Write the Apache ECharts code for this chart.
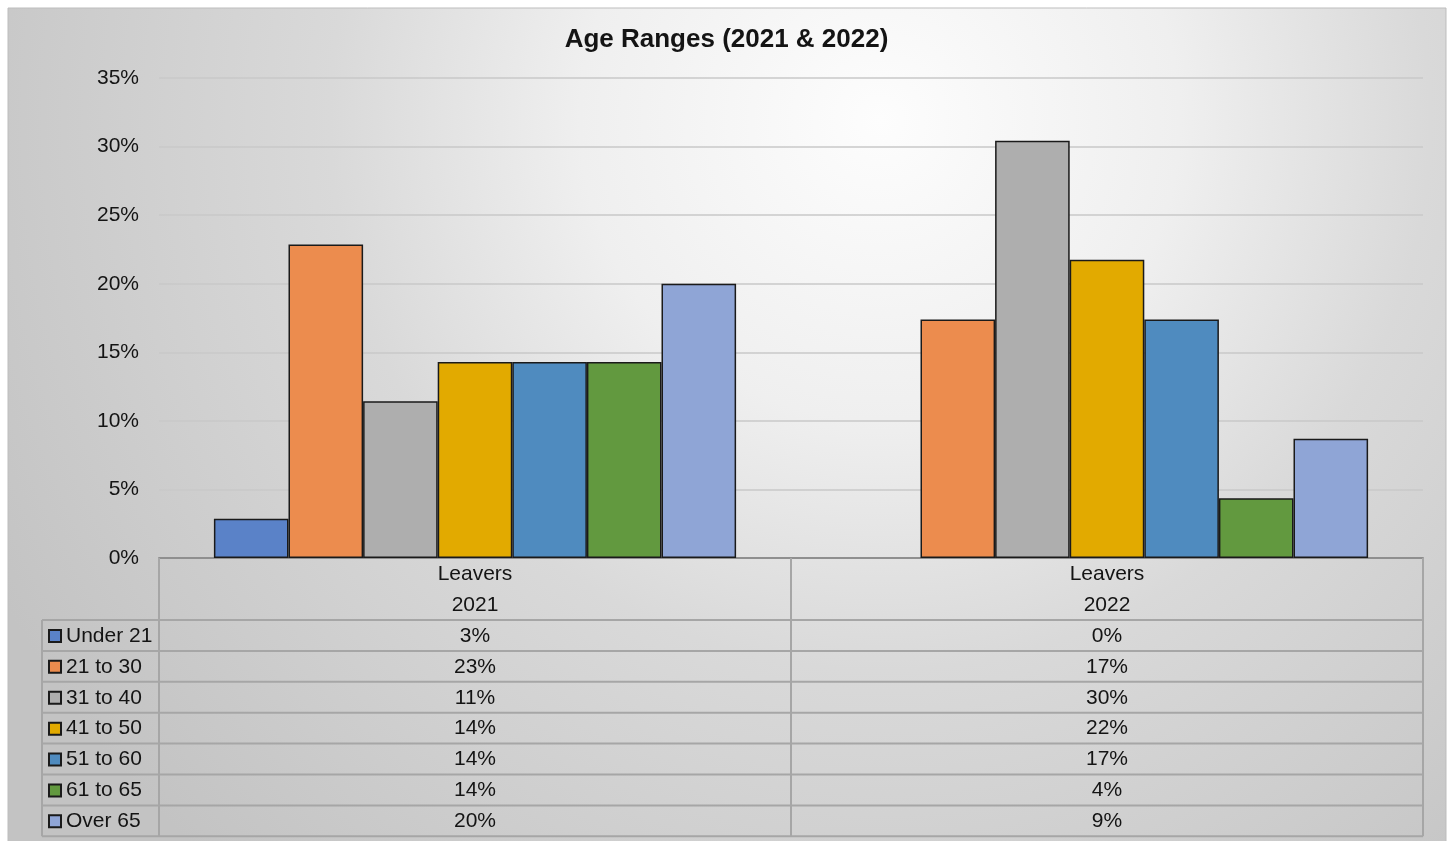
<!DOCTYPE html>
<html>
<head>
<meta charset="utf-8">
<script src="https://cdn.jsdelivr.net/npm/echarts@6/dist/echarts.min.js"></script>
<style>
html,body{margin:0;padding:0;background:#fff;}
#chart{width:1453px;height:841px;}
</style>
</head>
<body>
<div id="chart"></div>
<script>
// ---- data ----
const categories = ['2021', '2022'];
const groupLabel = 'Leavers';
const seriesNames = ['Under 21', '21 to 30', '31 to 40', '41 to 50', '51 to 60', '61 to 65', 'Over 65'];
const under21  = [2.86, 0];
const age21to30 = [22.86, 17.39];
const age31to40 = [11.43, 30.43];
const age41to50 = [14.29, 21.74];
const age51to60 = [14.29, 17.39];
const age61to65 = [14.29, 4.35];
const over65   = [20.0, 8.70];
const yTicks = [0, 5, 10, 15, 20, 25, 30, 35];

const seriesValues = [under21, age21to30, age31to40, age41to50, age51to60, age61to65, over65];
const colors = ['#5A82C8', '#EC8C4E', '#AEAEAE', '#E2AA00', '#4F8BBF', '#62993F', '#8FA5D6'];

const chart = echarts.init(document.getElementById('chart'));

const TXT = '#141414';
const FONT = 'Liberation Sans, Arial, sans-serif';
const gridLeft = 159, gridRight = 1423, gridTop = 78, gridBottomY = 558;
const rowH = 30.9;
const firstRowTop = 620;
const tableBottom = firstRowTop + rowH * 7;
const legendLeft = 42;
const midX = (gridLeft + gridRight) / 2;

const xAxes = [{
  type: 'category',
  data: categories,
  position: 'bottom',
  axisLine: { show: true, lineStyle: { color: '#8f8f8f', width: 2 } },
  axisTick: { show: false },
  axisLabel: {
    interval: 0, margin: 1, lineHeight: 31, fontSize: 21, color: TXT, fontFamily: FONT,
    formatter: v => groupLabel + '\n' + v
  },
  splitLine: { show: false }
}];
seriesValues.forEach((vals, i) => {
  xAxes.push({
    type: 'category',
    data: categories,
    position: 'bottom',
    offset: 62.5 + rowH * i,
    axisLine: { show: false },
    axisTick: { show: false },
    splitLine: { show: false },
    axisLabel: {
      interval: 0, margin: 0, lineHeight: 31, fontSize: 21, color: TXT, fontFamily: FONT,
      formatter: (v, idx) => Math.round(vals[idx]) + '%'
    }
  });
});

const lineStyle = { stroke: '#a6a6a6', lineWidth: 2 };
const graphics = [{
  type: 'rect', z: -10, silent: true,
  shape: { x: 8, y: 8, width: 1438, height: 840 },
  style: {
    fill: {
      type: 'radial', x: 880, y: 120, r: 1000, global: true,
      colorStops: [
        { offset: 0, color: '#fdfdfd' },
        { offset: 0.3, color: '#efefef' },
        { offset: 0.55, color: '#d9d9d9' },
        { offset: 1, color: '#c3c3c3' }
      ]
    },
    stroke: '#bdbdbd', lineWidth: 1
  }
}];
for (let k = 0; k <= 7; k++) {
  const y = firstRowTop + rowH * k;
  graphics.push({ type: 'line', silent: true, z: 1, shape: { x1: legendLeft, y1: y, x2: gridRight, y2: y }, style: lineStyle });
}
[[legendLeft, firstRowTop], [gridLeft, gridBottomY], [midX, gridBottomY], [gridRight, gridBottomY]].forEach(([x, y0]) => {
  graphics.push({ type: 'line', silent: true, z: 1, shape: { x1: x, y1: y0, x2: x, y2: tableBottom }, style: lineStyle });
});

const option = {
  backgroundColor: 'transparent',
  animation: false,
  textStyle: { fontFamily: FONT },
  title: {
    text: 'Age Ranges (2021 & 2022)',
    left: 'center', top: 25, padding: 0,
    textStyle: { fontSize: 26, fontWeight: 'bold', color: TXT, fontFamily: FONT, lineHeight: 30 }
  },
  legend: {
    orient: 'vertical',
    left: 48, top: firstRowTop + 0.5,
    padding: 0, itemGap: 0,
    itemWidth: 12, itemHeight: 12,
    icon: 'rect',
    data: seriesNames,
    itemStyle: { borderColor: '#1a1a1a', borderWidth: 2 },
    textStyle: { fontSize: 21, color: TXT, fontFamily: FONT, lineHeight: rowH, padding: [0, 0, 0, 0] },
    selectedMode: false
  },
  grid: { left: gridLeft, right: 1453 - gridRight, top: gridTop, bottom: 841 - gridBottomY, containLabel: false },
  xAxis: xAxes,
  yAxis: {
    type: 'value', min: 0, max: 35, interval: 5,
    axisLine: { show: false }, axisTick: { show: false },
    axisLabel: {
      margin: 20, fontSize: 21, color: TXT, fontFamily: FONT, padding: [2, 0, 0, 0],
      customValues: yTicks,
      formatter: v => v + '%'
    },
    splitLine: { lineStyle: { color: '#c9c9c9', width: 1.5 } }
  },
  series: seriesNames.map((name, i) => ({
    name: name,
    type: 'bar',
    xAxisIndex: 0,
    data: seriesValues[i].map(v => v === 0 ? { value: v, itemStyle: { borderWidth: 0 } } : v),
    barWidth: 74.6,
    barGap: '0%',
    itemStyle: { color: colors[i], borderColor: '#1a1a1a', borderWidth: 1.5 },
    emphasis: { disabled: true }
  })),
  graphic: graphics
};
chart.setOption(option);
</script>
</body>
</html>
